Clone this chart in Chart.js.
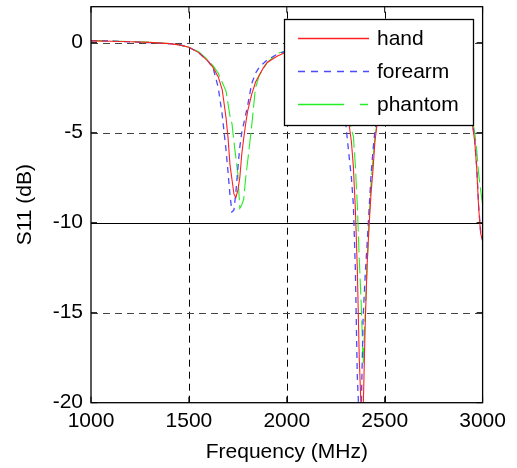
<!DOCTYPE html>
<html>
<head>
<meta charset="utf-8">
<script src="https://cdn.jsdelivr.net/npm/chart.js@4.4.1/dist/chart.umd.min.js"></script>
<style>
  html, body { margin: 0; padding: 0; background: #fff; }
  #s11 { display: block; }
</style>
</head>
<body>
<canvas id="s11" width="517" height="468"></canvas>
<script>
// --- data ---
const freq = [
  1000, 1100, 1200, 1300, 1400, 1450, 1500, 1550, 1600, 1625,
  1650, 1670, 1690, 1700, 1710, 1720, 1730, 1740, 1750, 1760,
  1770, 1780, 1790, 1800, 1820, 1840, 1860, 1880, 1900, 1950,
  2000, 2100, 2200, 2250, 2280, 2300, 2320, 2330, 2340, 2350,
  2360, 2370, 2380, 2390, 2400, 2410, 2420, 2430, 2440, 2450,
  2460, 2480, 2500, 2600, 2700, 2800, 2900, 2940, 2950, 2960,
  2970, 2980, 2990, 3000
];
const hand = [
  0.10, 0.08, 0.05, 0.02, -0.05, -0.12, -0.25, -0.55, -1.05, -1.40,
  -1.90, -2.60, -4.20, -5.30, -6.80, -7.60, -8.40, -8.60, -8.20, -7.50,
  -6.20, -5.30, -4.50, -3.80, -2.90, -2.20, -1.80, -1.40, -1.10, -0.75,
  -0.50, -0.50, -1.20, -1.80, -2.60, -3.40, -4.70, -5.50, -6.90, -9.20,
  -12.5, -17.5, -20.5, -20.5, -15.8, -12.4, -10.2, -8.40, -7.10, -5.50,
  -4.60, -3.80, -3.00, -1.80, -1.50, -1.80, -2.80, -4.20, -4.70, -5.50,
  -7.00, -9.20, -10.6, -11.0
];
const forearm = [
  0.10, 0.10, 0.04, 0.00, -0.05, -0.10, -0.25, -0.55, -1.05, -1.45,
  -2.50, -4.00, -6.00, -7.20, -8.50, -9.40, -9.30, -8.30, -7.00, -5.80,
  -5.00, -4.50, -4.00, -3.50, -2.30, -1.70, -1.35, -1.15, -0.95, -0.65,
  -0.45, -0.50, -1.30, -2.00, -3.00, -4.40, -6.50, -7.50, -9.00, -12.5,
  -18.5, -21.0, -20.5, -15.2, -13.0, -11.2, -9.30, -7.40, -6.00, -4.90,
  -4.30, -3.60, -2.90, -1.80, -1.50, -1.80, -2.80, -4.10, -4.60, -5.40,
  -6.90, -9.10, -10.5, -11.0
];
const phantom = [
  0.12, 0.10, 0.06, 0.03, -0.05, -0.12, -0.25, -0.50, -1.00, -1.30,
  -1.70, -2.20, -2.70, -3.40, -4.10, -4.50, -5.50, -6.40, -7.30, -9.20,
  -9.00, -8.70, -7.50, -6.60, -4.70, -2.50, -1.80, -1.45, -1.10, -0.60,
  -0.45, -0.50, -1.10, -1.70, -2.50, -3.20, -4.30, -4.80, -5.20, -6.80,
  -9.00, -12.0, -14.5, -17.8, -15.2, -12.4, -10.0, -7.80, -6.50, -5.30,
  -4.50, -3.70, -3.00, -1.80, -1.50, -1.80, -2.70, -4.00, -4.40, -5.00,
  -6.00, -7.30, -8.20, -9.00
];
const seriesNames = ['hand', 'forearm', 'phantom'];
const seriesColors = ['#ff2020', '#4a4aff', '#22ee22'];
const xTicks = [1000, 1500, 2000, 2500, 3000];
const yTicks = [-20, -15, -10, -5, 0];

const FONT = "'Liberation Sans', Arial, Helvetica, sans-serif";
Chart.defaults.font.family = FONT;
Chart.defaults.color = '#000';

const pts = vals => freq.map((f, i) => ({ x: f, y: vals[i] }));

// --- MATLAB-ish axes: dashed grid, box, inward ticks, boxed legend ---
const matlabAxes = {
  id: 'matlabAxes',
  beforeDatasetsDraw(chart) {
    const { ctx, chartArea: a, scales: { x, y } } = chart;
    ctx.save();
    ctx.strokeStyle = '#000';
    ctx.lineWidth = 1;
    xTicks.forEach(v => {
      if (v === x.min || v === x.max) return;
      const px = Math.round(x.getPixelForValue(v)) + 0.5;
      ctx.setLineDash([7, 5]);
      ctx.beginPath(); ctx.moveTo(px, a.bottom); ctx.lineTo(px, a.top); ctx.stroke();
    });
    yTicks.forEach(v => {
      if (v === y.min || v === y.max) return;
      const py = Math.round(y.getPixelForValue(v)) + 0.5;
      ctx.setLineDash(v === -10 ? [] : [7, 5]);
      ctx.strokeStyle = v === -10 ? '#000' : '#444';
      ctx.beginPath(); ctx.moveTo(a.left, py); ctx.lineTo(a.right, py); ctx.stroke();
    });
    ctx.restore();
  },
  afterDatasetsDraw(chart) {
    const { ctx, chartArea: a, scales: { x, y } } = chart;
    ctx.save();
    ctx.setLineDash([]);
    ctx.strokeStyle = '#000';
    ctx.lineWidth = 1.3;
    ctx.strokeRect(a.left, a.top, a.right - a.left, a.bottom - a.top);

    // inward tick marks on all four sides
    const tl = 6;
    ctx.lineWidth = 1;
    ctx.beginPath();
    xTicks.forEach(v => {
      const px = x.getPixelForValue(v);
      ctx.moveTo(px, a.bottom); ctx.lineTo(px, a.bottom - tl);
      ctx.moveTo(px, a.top); ctx.lineTo(px, a.top + tl);
    });
    yTicks.forEach(v => {
      const py = y.getPixelForValue(v);
      ctx.moveTo(a.left, py); ctx.lineTo(a.left + tl, py);
      ctx.moveTo(a.right, py); ctx.lineTo(a.right - tl, py);
    });
    ctx.stroke();

    // legend box
    const bx = 284.5, by = 19.5, bw = 189, bh = 106;
    ctx.fillStyle = '#fff';
    ctx.fillRect(bx, by, bw, bh);
    ctx.lineWidth = 1.3;
    ctx.strokeRect(bx, by, bw, bh);
    const rows = [38.5, 71.5, 104.5];
    const dashes = [[], [7, 6], [46, 16, 8, 40]];
    ctx.font = '21px ' + FONT;
    ctx.textBaseline = 'middle';
    seriesNames.forEach((name, i) => {
      ctx.strokeStyle = seriesColors[i];
      ctx.lineWidth = 1.5;
      ctx.setLineDash(dashes[i]);
      ctx.beginPath(); ctx.moveTo(298, rows[i]); ctx.lineTo(369, rows[i]); ctx.stroke();
      ctx.fillStyle = '#000';
      ctx.fillText(name, 377, rows[i] + 1);
    });
    ctx.restore();
  }
};

new Chart(document.getElementById('s11'), {
  type: 'line',
  data: {
    datasets: [
      { label: seriesNames[0], data: pts(hand), borderColor: seriesColors[0], borderWidth: 1.1 },
      { label: seriesNames[1], data: pts(forearm), borderColor: seriesColors[1], borderWidth: 1.3, borderDash: [6, 5] },
      { label: seriesNames[2], data: pts(phantom), borderColor: seriesColors[2], borderWidth: 1.1, borderDash: [16, 5] }
    ]
  },
  options: {
    responsive: false,
    animation: false,
    parsing: false,
    elements: { point: { radius: 0 }, line: { tension: 0 } },
    layout: { padding: { left: 0, right: 34.4, top: 6.7, bottom: 0 } },
    plugins: { legend: { display: false }, tooltip: { enabled: false } },
    scales: {
      x: {
        type: 'linear', min: 1000, max: 3000,
        afterBuildTicks: s => { s.ticks = xTicks.map(v => ({ value: v })); },
        afterFit: s => { s.height = 65.3; s.paddingLeft = 0; s.paddingRight = 0; },
        grid: { display: false, drawTicks: false },
        border: { display: false },
        ticks: { font: { size: 21 }, color: '#000', padding: 6, maxRotation: 0, callback: v => String(v) },
        title: { display: true, text: 'Frequency (MHz)', font: { size: 21 }, color: '#000', padding: { top: 3.5, bottom: 3.5 } }
      },
      y: {
        type: 'linear', min: -20, max: 2,
        afterBuildTicks: s => { s.ticks = yTicks.map(v => ({ value: v })); },
        afterFit: s => { s.width = 91; s.paddingTop = 0; s.paddingBottom = 0; },
        grid: { display: false, drawTicks: false },
        border: { display: false },
        ticks: { font: { size: 21 }, color: '#000', padding: 8, callback: v => String(v) },
        title: { display: true, text: 'S11 (dB)', font: { size: 21 }, color: '#000', padding: { top: 12.4, bottom: 12.4 } }
      }
    }
  },
  plugins: [matlabAxes]
});
</script>
</body>
</html>
